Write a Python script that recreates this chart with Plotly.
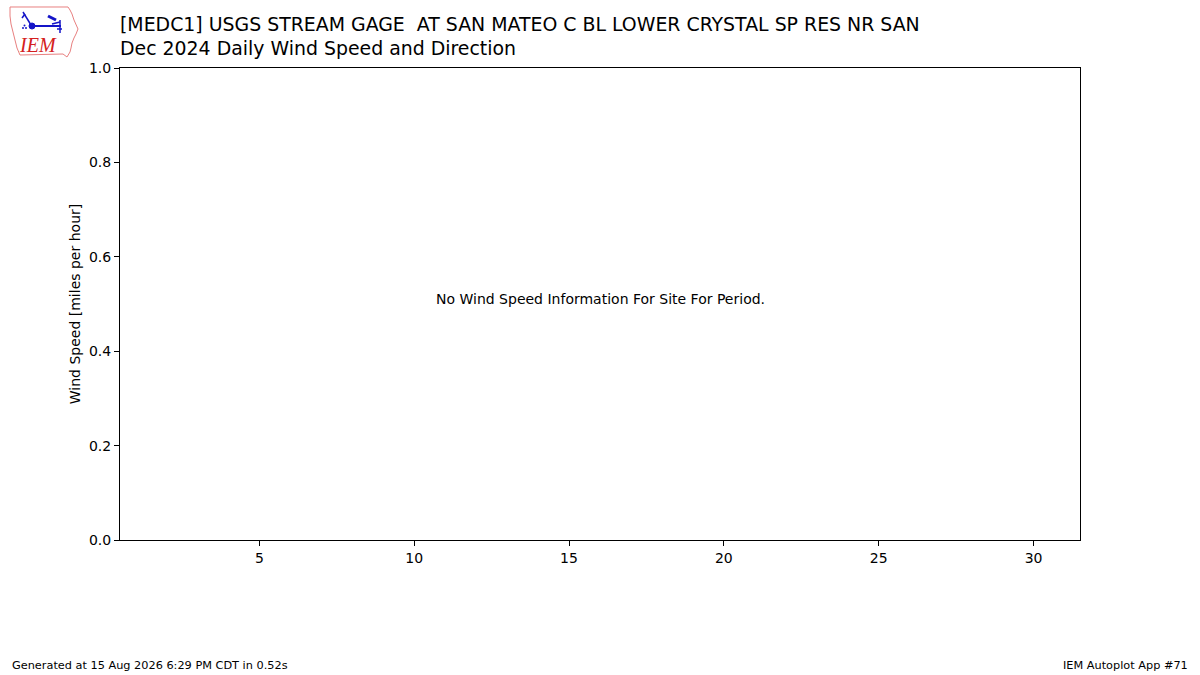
import plotly.graph_objects as go

# ---- data ----
days = list(range(1, 32))
wind_speed = [None] * 31  # no data for period
x_ticks = [5, 10, 15, 20, 25, 30]
y_ticks = [0.0, 0.2, 0.4, 0.6, 0.8, 1.0]

title_line1 = "[MEDC1] USGS STREAM GAGE  AT SAN MATEO C BL LOWER CRYSTAL SP RES NR SAN"
title_line2 = "Dec 2024 Daily Wind Speed and Direction"
no_data_msg = "No Wind Speed Information For Site For Period."
footer_left = "Generated at 15 Aug 2026 6:29 PM CDT in 0.52s"
footer_right = "IEM Autoplot App #71"

W, H = 1200, 675
L, R, T, B = 120, 1080, 68, 540

def px(x):
    return (x - L) / (R - L)

def py(y):
    return (B - y) / (B - T)

FONT = "DejaVu Sans"

fig = go.Figure()
fig.add_trace(go.Scatter(x=days, y=wind_speed, mode="lines", showlegend=False,
                         line=dict(color="black")))

fig.update_layout(
    width=W, height=H,
    margin=dict(l=L, r=W - R, t=T, b=H - B, pad=0),
    paper_bgcolor="white", plot_bgcolor="white",
    font=dict(family=FONT, size=14, color="black"),
    showlegend=False,
    xaxis=dict(range=[0.5, 31.5], tickvals=x_ticks, ticks="outside", ticklen=5,
               tickcolor="black", showline=True, linecolor="black", linewidth=1,
               mirror=True, showgrid=False, zeroline=False,
               tickfont=dict(size=14, family=FONT)),
    yaxis=dict(range=[0, 1], tickvals=y_ticks, tickformat=".1f", ticks="outside",
               ticklen=5, tickcolor="black", showline=True, linecolor="black",
               linewidth=1, mirror=True, showgrid=False, zeroline=False,
               title=dict(text="Wind Speed [miles per hour]", font=dict(size=14, family=FONT),
                          standoff=5),
               tickfont=dict(size=14, family=FONT)),
)

ann = []
ann.append(dict(text=title_line1, x=px(118), y=py(24), xref="paper", yref="paper",
                xanchor="left", yanchor="middle", showarrow=False,
                font=dict(size=18.9, family=FONT)))
ann.append(dict(text=title_line2, x=px(118), y=py(48), xref="paper", yref="paper",
                xanchor="left", yanchor="middle", showarrow=False,
                font=dict(size=18.9, family=FONT)))
ann.append(dict(text=no_data_msg, x=0.5, y=py(299), xref="paper", yref="paper",
                xanchor="center", yanchor="middle", showarrow=False,
                font=dict(size=14, family=FONT)))
ann.append(dict(text=footer_left, x=px(10), y=py(665), xref="paper", yref="paper",
                xanchor="left", yanchor="middle", showarrow=False,
                font=dict(size=11.3, family=FONT)))
ann.append(dict(text=footer_right, x=px(1190), y=py(665), xref="paper", yref="paper",
                xanchor="right", yanchor="middle", showarrow=False,
                font=dict(size=11.3, family=FONT)))
# logo text
ann.append(dict(text="<i>IEM</i>", x=px(38), y=py(45), xref="paper", yref="paper",
                xanchor="center", yanchor="middle", showarrow=False,
                font=dict(size=20, family="Liberation Serif", color="#d42020")))
fig.update_layout(annotations=ann)

# logo: Iowa outline
outline = [(10, 7), (68, 7), (70, 10), (72, 14), (74, 20), (78, 29), (76, 34),
           (74, 38), (72, 43), (71, 48), (70, 52), (67, 57), (63, 54), (20, 55),
           (17, 48), (15, 40), (13, 32), (11, 24), (10, 16)]
path = "M " + " L ".join(f"{px(x):.5f},{py(y):.5f}" for x, y in outline) + " Z"
shapes = [dict(type="path", path=path, xref="paper", yref="paper",
               line=dict(color="#e88080", width=1), fillcolor="rgba(0,0,0,0)")]
blue = "#1414c8"
for (x0, y0, x1, y1, w) in [(32, 26, 61, 26, 2), (60, 20, 60, 33, 1.5), (23, 12, 31, 25, 1.5),
                            (22, 18, 25, 14, 1.5), (48, 16, 56, 20, 3), (57, 29, 62, 29, 1.5),
                            (52, 24, 60, 22, 1.5)]:
    shapes.append(dict(type="line", x0=px(x0), y0=py(y0), x1=px(x1), y1=py(y1),
                       xref="paper", yref="paper", line=dict(color=blue, width=w)))
shapes.append(dict(type="circle", x0=px(29), y0=py(23), x1=px(35), y1=py(29),
                   xref="paper", yref="paper", fillcolor=blue, line=dict(color=blue, width=1)))
for (cx, cy) in [(23, 28), (26, 28), (24.5, 25.5)]:
    shapes.append(dict(type="circle", x0=px(cx - 1), y0=py(cy - 1), x1=px(cx + 1), y1=py(cy + 1),
                       xref="paper", yref="paper", fillcolor=blue, line=dict(width=0)))
fig.update_layout(shapes=shapes)

fig.write_html("out.html", config={"displayModeBar": False},
               post_script="document.body.style.margin='0';")
